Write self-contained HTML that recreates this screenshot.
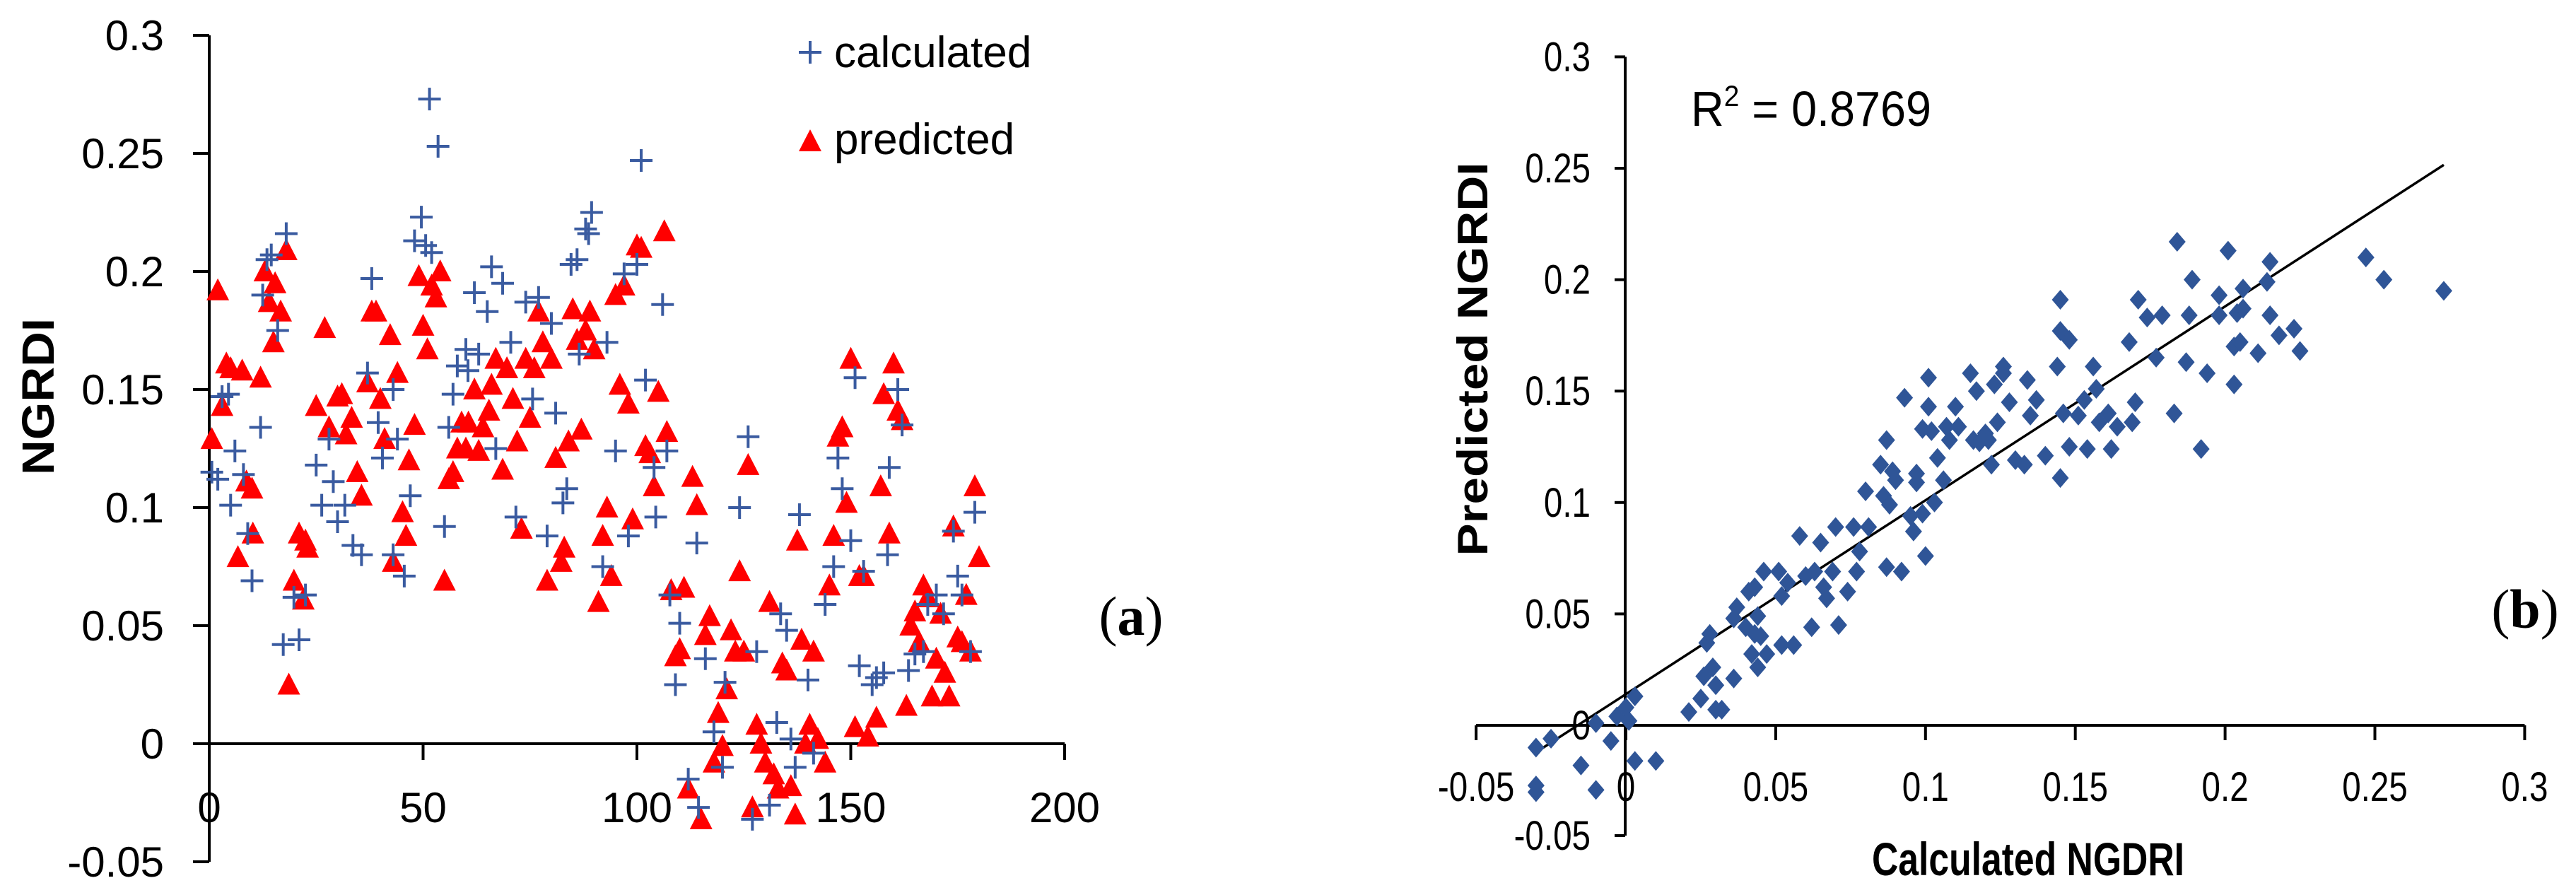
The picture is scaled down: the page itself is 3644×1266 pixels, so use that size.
<!DOCTYPE html>
<html><head><meta charset="utf-8"><style>
html,body{margin:0;padding:0;background:#fff;}
svg{display:block;}
</style></head><body>
<svg id="fig" width="3644" height="1266" viewBox="0 0 3644 1266" xmlns="http://www.w3.org/2000/svg">
<rect width="3644" height="1266" fill="#fff"/>
<g id="chartA"></g>
<g id="chartB"></g>
</svg>
<script>
// ---------- Chart (a) data ----------
const aCalcIdx = [0.6,2,3,4.5,5,6,8,9,10,12,12.5,13.5,14.5,16,18,17.3,19.8,21,22.5,25,26.3,28,29,30,31.7,33.6,35.6,37,38,39.5,40.5,43,44,43,45.6,47,48,49.6,50.6,51.5,53.5,52,55,56,57,58,60,60.5,62,63,65,66,67,68.6,70.5,71.7,74,75.6,77,79,80,81,82.7,83.6,84.6,86,86.5,88,89.4,88.7,92,93,95,97,98,100,101,102,104,104.4,106,107,107.7,109,110,112,114.4,114,116,118,120,120.6,124,126,127,128,131,132.7,133.6,135,136,137,138,140,141.3,144,146,147,148,150,151,152,153,155,156,157.7,158.6,159,161,162,163.5,165,167,168,170,171.7,174,175,176,178,179];
const aCalcVal = [0.115,0.112,0.147,0.148,0.101,0.124,0.114,0.089,0.069,0.134,0.19,0.205,0.207,0.175,0.216,0.042,0.062,0.044,0.063,0.118,0.101,0.129,0.111,0.094,0.101,0.084,0.080,0.157,0.197,0.136,0.121,0.150,0.129,0.080,0.071,0.105,0.213,0.223,0.211,0.273,0.253,0.208,0.092,0.134,0.148,0.160,0.167,0.158,0.191,0.165,0.183,0.202,0.125,0.195,0.170,0.096,0.187,0.146,0.189,0.088,0.178,0.140,0.102,0.108,0.203,0.205,0.165,0.218,0.225,0.216,0.075,0.170,0.124,0.199,0.088,0.203,0.247,0.154,0.117,0.096,0.186,0.124,0.063,0.025,0.051,-0.015,-0.027,0.085,0.036,0.005,-0.010,0.026,0.100,0.130,-0.032,0.039,-0.026,0.009,0.055,0.048,0.002,-0.010,0.097,0.027,-0.004,0.059,0.075,0.121,0.108,0.086,0.155,0.033,0.073,0.025,0.028,0.030,0.080,0.117,0.150,0.135,0.031,0.038,0.039,0.059,0.063,0.055,0.090,0.071,0.063,0.039,0.098];
const aPredIdx = [0.6,2,3,4,5,6.7,7.7,8.7,10,10.2,12,13,14,15.4,15,16.7,18,18.6,19.8,21,22.5,23,22,25,27,28,30,31,32,33.3,34.6,35.6,37,38,39,40,41,42.3,43,44,45.2,46,46.7,48,49,50,51,52,53,54,55,56,57,58,59,60,60.6,62,63,64,65.4,66,67,68.6,69.6,71,72,73,74,75,76,77,78,79,80,81,82.3,83,84,85,86,87,88,89,90,91,92,93,94,95,96,97,98,99,100,101,102,103,104,105,106.4,107,108,109,110,111,112,113,114,115,116,117,118,119,120,121,122,123,124,125,126,127,128,129,130,131,132,133,134,135,136,137,137.5,138.5,139.4,140.4,141.3,142.3,144,145,146,147,148,149,150,151,152,153,154,156,157,157.7,159,160,161,162,163,164,165,166,167,168,169,170,171,172,173,174,175,176,177,178,179,180];
const aPredVal = [0.129,0.192,0.143,0.161,0.159,0.079,0.158,0.111,0.108,0.089,0.155,0.200,0.187,0.195,0.170,0.183,0.209,0.025,0.069,0.089,0.086,0.083,0.061,0.143,0.176,0.134,0.147,0.148,0.131,0.138,0.115,0.105,0.153,0.183,0.183,0.146,0.129,0.173,0.077,0.157,0.098,0.088,0.120,0.135,0.198,0.177,0.167,0.194,0.189,0.200,0.069,0.112,0.115,0.125,0.136,0.125,0.136,0.150,0.124,0.134,0.141,0.152,0.163,0.116,0.159,0.146,0.128,0.091,0.163,0.138,0.159,0.183,0.170,0.069,0.163,0.121,0.077,0.083,0.128,0.184,0.171,0.133,0.175,0.183,0.167,0.060,0.088,0.100,0.071,0.190,0.152,0.194,0.144,0.095,0.211,0.210,0.126,0.123,0.109,0.149,0.217,0.132,0.065,0.037,0.040,0.066,-0.019,0.113,0.101,-0.032,0.046,0.054,-0.008,0.013,-0.001,0.023,0.048,0.039,0.073,0.039,0.118,-0.027,0.008,0.000,-0.008,0.060,-0.013,-0.019,0.034,0.031,-0.018,-0.030,0.086,0.044,0.000,0.008,0.039,0.002,-0.008,0.067,0.088,0.130,0.134,0.102,0.163,0.007,0.071,0.071,0.003,0.011,0.109,0.148,0.089,0.161,0.141,0.137,0.016,0.050,0.056,0.043,0.067,0.062,0.020,0.036,0.055,0.030,0.020,0.092,0.045,0.043,0.063,0.039,0.109,0.079];
const aXTicks = [0,50,100,150,200];
const aYTicks = [-0.05,0,0.05,0.1,0.15,0.2,0.25,0.3];
const aYTickLabels = ["-0.05","0","0.05","0.1","0.15","0.2","0.25","0.3"];

// ---------- Chart (b) data ----------
const bCalc = [-0.030,-0.030,-0.030,-0.025,-0.015,-0.010,-0.010,-0.005,-0.003,0,0.001,0.003,0.003,0.010,0.021,0.025,0.026,0.027,0.028,0.029,0.030,0.030,0.032,0.036,0.036,0.037,0.040,0.041,0.042,0.043,0.043,0.044,0.044,0.045,0.046,0.047,0.051,0.052,0.052,0.054,0.056,0.058,0.060,0.062,0.063,0.065,0.066,0.067,0.069,0.070,0.071,0.074,0.076,0.077,0.078,0.080,0.081,0.085,0.086,0.087,0.087,0.088,0.089,0.090,0.092,0.093,0.095,0.096,0.097,0.097,0.099,0.099,0.100,0.101,0.101,0.102,0.103,0.104,0.106,0.107,0.108,0.110,0.111,0.115,0.116,0.117,0.118,0.120,0.121,0.122,0.123,0.124,0.126,0.126,0.128,0.130,0.133,0.134,0.135,0.137,0.140,0.144,0.145,0.145,0.145,0.146,0.148,0.148,0.151,0.153,0.154,0.156,0.157,0.158,0.161,0.162,0.164,0.168,0.169,0.170,0.171,0.174,0.177,0.179,0.183,0.184,0.187,0.188,0.189,0.192,0.194,0.198,0.198,0.201,0.203,0.203,0.204,0.205,0.206,0.206,0.211,0.214,0.215,0.215,0.218,0.223,0.225,0.247,0.253,0.273];
const bPred = [-0.010,-0.027,-0.030,-0.006,-0.018,0.001,-0.029,-0.007,0.004,0.008,0.002,0.013,-0.016,-0.016,0.006,0.012,0.022,0.037,0.041,0.026,0.018,0.007,0.007,0.021,0.048,0.053,0.044,0.060,0.032,0.041,0.062,0.049,0.026,0.040,0.069,0.032,0.069,0.058,0.036,0.064,0.036,0.085,0.067,0.044,0.069,0.082,0.062,0.057,0.069,0.089,0.045,0.060,0.089,0.069,0.078,0.105,0.089,0.117,0.103,0.071,0.128,0.099,0.114,0.110,0.069,0.147,0.094,0.087,0.113,0.109,0.133,0.095,0.076,0.156,0.143,0.132,0.100,0.120,0.110,0.134,0.128,0.143,0.134,0.158,0.128,0.150,0.127,0.131,0.128,0.117,0.153,0.136,0.161,0.158,0.145,0.119,0.117,0.155,0.139,0.146,0.121,0.161,0.191,0.177,0.111,0.140,0.173,0.125,0.139,0.146,0.124,0.161,0.151,0.136,0.140,0.124,0.134,0.172,0.136,0.145,0.191,0.183,0.165,0.184,0.140,0.217,0.163,0.184,0.200,0.124,0.158,0.193,0.184,0.213,0.170,0.153,0.185,0.172,0.196,0.187,0.167,0.199,0.184,0.208,0.175,0.178,0.168,0.210,0.200,0.195];
const bTicks = [-0.05,0,0.05,0.1,0.15,0.2,0.25,0.3];
const bTickLabels = ["-0.05","0","0.05","0.1","0.15","0.2","0.25","0.3"];
const bFitSlope = [0.87];
const bFitIntercept = [0.014];
const bFitRange = [-0.03,0.273];

const NS = "http://www.w3.org/2000/svg";
function mk(parent, tag, attrs, text){
  const e = document.createElementNS(NS, tag);
  for (const k in attrs) e.setAttribute(k, attrs[k]);
  if (text !== undefined) e.textContent = text;
  parent.appendChild(e);
  return e;
}
const SANS = '"Liberation Sans", Arial, sans-serif';
const SERIF = '"Liberation Serif", "Times New Roman", serif';
const narrowList = [];

// ===== Chart A =====
(function(){
  const g = document.getElementById('chartA');
  const ax = v => 296 + (v/200)*1210;
  const ay = v => 1052 - v*3340;
  let e;
  e = mk(g,'line',{x1:296,y1:ay(0.3),x2:296,y2:ay(-0.05),stroke:'#000','stroke-width':4});
   
  e = mk(g,'line',{x1:296,y1:1052,x2:ax(200),y2:1052,stroke:'#000','stroke-width':4});
   
  aYTicks.forEach((t,i)=>{
    const y = ay(t);
    const tk = mk(g,'line',{x1:273,y1:y,x2:296,y2:y,stroke:'#000','stroke-width':4});
     
    const lb = mk(g,'text',{x:232,y:y+21,'text-anchor':'end','font-family':SANS,'font-size':60,fill:'#000'},aYTickLabels[i]);
     
  });
  aXTicks.forEach(t=>{
    const x = ax(t);
    const tk = mk(g,'line',{x1:x,y1:1052,x2:x,y2:1075,stroke:'#000','stroke-width':4});
     
    const lb = mk(g,'text',{x:x,y:1163,'text-anchor':'middle','font-family':SANS,'font-size':60,fill:'#000'},String(t));
     
  });
  e = mk(g,'text',{x:0,y:0,transform:'translate(76,561) rotate(-90)','text-anchor':'middle','font-family':SANS,'font-weight':'bold','font-size':64,textLength:222,lengthAdjust:'spacingAndGlyphs',fill:'#000'},'NGRDI');
   
  aPredIdx.forEach((xi,i)=>{
    const x = ax(xi), y = ay(aPredVal[i]);
    const p = mk(g,'polygon',{points:`${x},${y-17} ${x-16},${y+14} ${x+16},${y+14}`,fill:'#ff0000'});
     
  });
  aCalcIdx.forEach((xi,i)=>{
    const x = ax(xi), y = ay(aCalcVal[i]);
    const p = mk(g,'path',{d:`M${x-16},${y}H${x+16}M${x},${y-16}V${y+16}`,stroke:'#3A5BA0','stroke-width':4,fill:'none'});
     
  });
  const lg = mk(g,'g',{});
   
  e = mk(lg,'path',{d:'M1130,74H1162M1146,58V90',stroke:'#3A5BA0','stroke-width':4});
   
  e = mk(lg,'text',{x:1180,y:95,'font-family':SANS,'font-size':62,fill:'#000'},'calculated');
   
  e = mk(lg,'polygon',{points:'1146,183 1130,214 1162,214',fill:'#ff0000'});
   
  e = mk(lg,'text',{x:1180,y:218,'font-family':SANS,'font-size':62,fill:'#000'},'predicted');
   
  e = mk(g,'text',{x:1600,y:898,'text-anchor':'middle','font-family':SERIF,'font-size':78,fill:'#000'},'');
   
  mk(e,'tspan',{},'(');
  mk(e,'tspan',{'font-weight':'bold'},'a');
  mk(e,'tspan',{},')');
})();

// ===== Chart B =====
(function(){
  const g = document.getElementById('chartB');
  const bx = v => 2300 + v*4238;
  const by = v => 1026 - v*3152;
  let e;
  e = mk(g,'line',{x1:2299,y1:by(0.3),x2:2299,y2:1182,stroke:'#000','stroke-width':4});
   
  e = mk(g,'line',{x1:bx(-0.05),y1:1026,x2:bx(0.3),y2:1026,stroke:'#000','stroke-width':4});
   
  bTicks.forEach((t,i)=>{
    const x = bx(t);
    const tk = mk(g,'line',{x1:x,y1:1026,x2:x,y2:1047,stroke:'#000','stroke-width':4});
     
    const lb = mk(g,'text',{x:x,y:1133,'text-anchor':'middle','font-family':SANS,'font-size':58,fill:'#000'},bTickLabels[i]);
     
    narrowList.push(lb);
    const y = t === -0.05 ? 1182 : by(t);
    const tk2 = mk(g,'line',{x1:2284,y1:y,x2:2299,y2:y,stroke:'#000','stroke-width':4});
     
    const lb2 = mk(g,'text',{x:2250,y:y+20,'text-anchor':'end','font-family':SANS,'font-size':58,fill:'#000'},bTickLabels[i]);
     
    narrowList.push(lb2);
  });
  const x0 = bFitRange[0], x1 = bFitRange[1];
  e = mk(g,'line',{x1:bx(x0),y1:by(bFitSlope[0]*x0+bFitIntercept[0]),x2:bx(x1),y2:by(bFitSlope[0]*x1+bFitIntercept[0]),stroke:'#000','stroke-width':3.5});
   
  bCalc.forEach((c,i)=>{
    const x = bx(c), y = by(bPred[i]);
    const p = mk(g,'polygon',{points:`${x},${y-14} ${x+12},${y} ${x},${y+14} ${x-12},${y}`,fill:'#2F5597'});
     
  });
  e = mk(g,'text',{x:2392,y:178,'font-family':SANS,'font-size':70,textLength:340,lengthAdjust:'spacingAndGlyphs',fill:'#000'},'');
   
  mk(e,'tspan',{},'R');
  mk(e,'tspan',{'font-size':42,dy:-28},'2');
  mk(e,'tspan',{dy:28},' = 0.8769');
  e = mk(g,'text',{x:2869,y:1238,'text-anchor':'middle','font-family':SANS,'font-weight':'bold','font-size':66,textLength:442,lengthAdjust:'spacingAndGlyphs',fill:'#000'},'Calculated NGDRI');
   
  e = mk(g,'text',{x:0,y:0,transform:'translate(2104,508) rotate(-90)','text-anchor':'middle','font-family':SANS,'font-weight':'bold','font-size':60,textLength:557,lengthAdjust:'spacingAndGlyphs',fill:'#000'},'Predicted NGRDI');
   
  e = mk(g,'text',{x:3572,y:888,'text-anchor':'middle','font-family':SERIF,'font-size':78,fill:'#000'},'');
   
  mk(e,'tspan',{},'(');
  mk(e,'tspan',{'font-weight':'bold'},'b');
  mk(e,'tspan',{},')');
})();
// condense chart-b tick labels to mimic a narrow font
narrowList.forEach(t=>{
  const w = t.getComputedTextLength();
  t.setAttribute('textLength', (w*0.82).toFixed(1));
  t.setAttribute('lengthAdjust','spacingAndGlyphs');
});
</script>
</body></html>
